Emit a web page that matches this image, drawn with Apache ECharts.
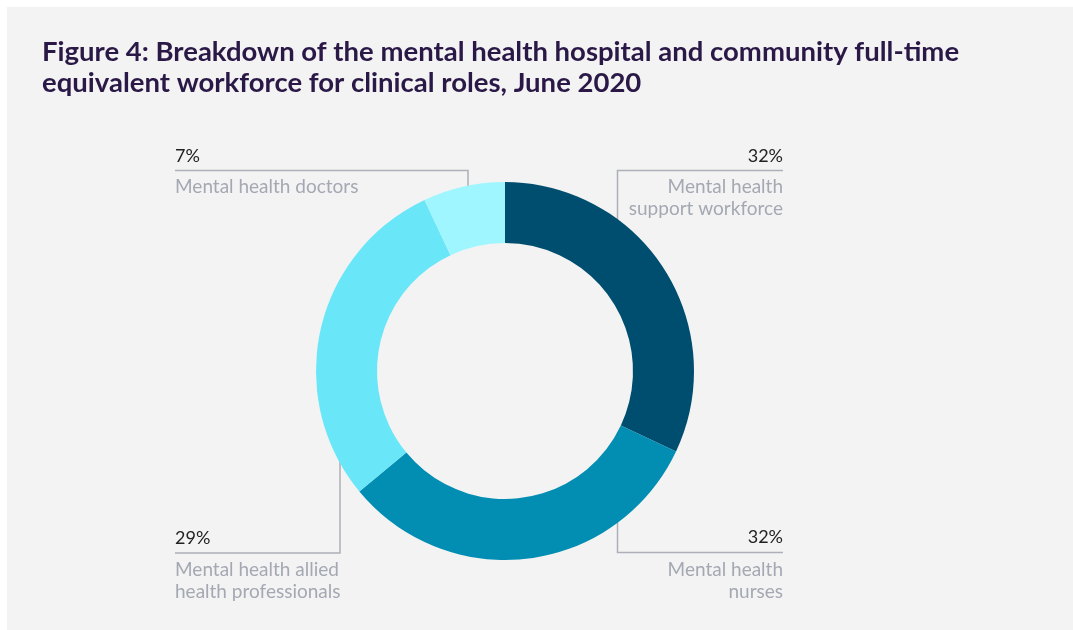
<!DOCTYPE html>
<html>
<head>
<meta charset="utf-8">
<script src="https://cdn.jsdelivr.net/npm/echarts@6/dist/echarts.min.js"></script>
<style>
  html, body { margin: 0; padding: 0; background: #ffffff; }
  #chart { width: 1073px; height: 630px; }
</style>
</head>
<body>
<div id="chart"></div>
<script>
// Clinical FTE workforce shares, June 2020 (percent of total)
const categories = [
  'Mental health support workforce',
  'Mental health nurses',
  'Mental health allied health professionals',
  'Mental health doctors'
];
const values = [32, 32, 29, 7];
// Label text as broken across lines next to each slice
const labelLines = [
  ['Mental health', 'support workforce'],
  ['Mental health', 'nurses'],
  ['Mental health allied', 'health professionals'],
  ['Mental health doctors']
];
const colors = ['#004e6f', '#028db3', '#69e7f8', '#a0f6ff'];

const titleText = 'Figure 4: Breakdown of the mental health hospital and community full-time\nequivalent workforce for clinical roles, June 2020';

// Donut geometry (pixels)
const CX = 505, CY = 371, R_IN = 128, R_OUT = 189;

// Callout placement for each slice: side of the text, rule y, elbow x,
// whether the elbow goes down to a slice below or up to one above
const callouts = [
  { align: 'right', textX: 783, ruleY: 170.5, elbowX: 617.5, pctY: 156, nameTop: 176, down: true },
  { align: 'right', textX: 783, ruleY: 552.5, elbowX: 617.5, pctY: 537.5, nameTop: 558.5, down: false },
  { align: 'left',  textX: 175, ruleY: 553,   elbowX: 340,   pctY: 538, nameTop: 558.5, down: false },
  { align: 'left',  textX: 175, ruleY: 170.5, elbowX: 468,   pctY: 156, nameTop: 176, down: true }
];

const LINE_COLOR = '#adb0b8';
const PCT_COLOR = '#222222';
const NAME_COLOR = '#a4a8b2';
const FONT = 'Lato, "Open Sans", sans-serif';

const graphics = [
  // panel background
  { type: 'rect', left: 7, top: 7, z: -10,
    shape: { width: 1066, height: 623 }, style: { fill: '#f3f3f3' } }
];

callouts.forEach((c, i) => {
  const dx = c.elbowX - CX;
  const edge = Math.sqrt(R_OUT * R_OUT - dx * dx);
  // end the elbow a few px inside the ring so it tucks under the slice
  const endY = c.down ? CY - edge + 4 : CY + edge - 4;
  graphics.push({
    type: 'polyline', z: 0,
    shape: { points: [[c.textX, c.ruleY], [c.elbowX, c.ruleY], [c.elbowX, endY]] },
    style: { stroke: LINE_COLOR, lineWidth: 1.5, fill: null }
  });
  graphics.push({
    type: 'text', z: 5, x: c.textX, y: c.pctY,
    style: {
      text: values[i] + '%', fill: PCT_COLOR, font: '18px ' + FONT,
      textAlign: c.align, textVerticalAlign: 'middle'
    }
  });
  graphics.push({
    type: 'text', z: 5, x: c.textX, y: c.nameTop,
    style: {
      text: labelLines[i].join('\n'), fill: NAME_COLOR, font: '19px ' + FONT,
      lineHeight: 22, textAlign: c.align, textVerticalAlign: 'top'
    }
  });
});

const chart = echarts.init(document.getElementById('chart'), null, { renderer: 'canvas' });
chart.setOption({
  animation: false,
  backgroundColor: 'transparent',
  title: {
    text: titleText,
    left: 42, top: 37, padding: 0,
    textStyle: {
      fontFamily: FONT, fontWeight: 'bold', fontSize: 27.5,
      lineHeight: 31, color: '#2a1846'
    }
  },
  graphic: graphics,
  series: [{
    type: 'pie',
    z: 2,
    center: [CX, CY],
    radius: [R_IN, R_OUT],
    startAngle: 90,
    clockwise: true,
    silent: true,
    label: { show: false },
    labelLine: { show: false },
    itemStyle: { borderWidth: 0 },
    data: categories.map((name, i) => ({
      name: name, value: values[i], itemStyle: { color: colors[i] }
    }))
  }]
});
</script>
</body>
</html>
